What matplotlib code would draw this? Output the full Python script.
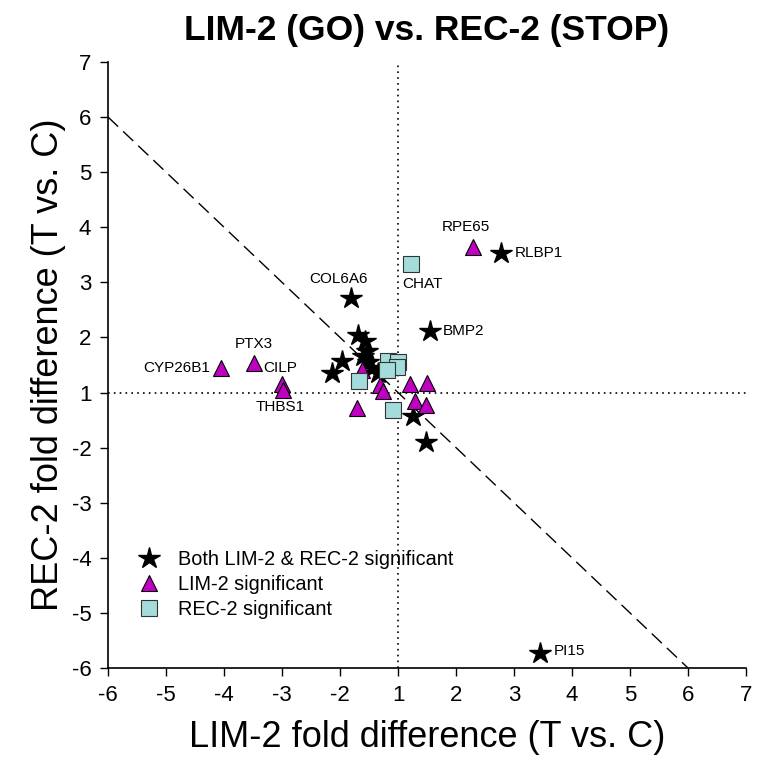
import numpy as np
import matplotlib
matplotlib.use("Agg")
import matplotlib.pyplot as plt
from matplotlib.lines import Line2D

plt.rcParams['font.family'] = ['Liberation Sans', 'DejaVu Sans']

# fold differences (T vs. C)
both_x = [-1.81, 2.78, 1.55, 3.45, -1.69, -1.57, -1.53, -1.60, -1.52, -1.97,
          -2.14, -1.34, -1.45, 1.26, 1.48]
both_y = [2.71, 3.53, 2.11, -5.73, 2.04, 1.93, 1.76, 1.67, 1.56, 1.58,
          1.35, 1.35, 1.44, -1.42, -1.89]
lim_x = [2.29, -4.05, -3.48, -3.00, -2.98, -1.62, -1.31, -1.26, 1.21, 1.50,
         -1.71, 1.29, 1.48]
lim_y = [3.64, 1.44, 1.53, 1.16, 1.04, 1.40, 1.13, 1.02, 1.15, 1.18,
         -1.29, -1.16, -1.22]
rec_x = [1.22, -1.17, 1.00, -1.02, -1.19, -1.67, -1.09]
rec_y = [3.33, 1.58, 1.56, 1.47, 1.40, 1.20, -1.31]

# gene labels: name, x, y, offset (px), horizontal alignment
labels = [
    ("COL6A6", -1.81, 2.71, (-13, 19), "center"),
    ("RLBP1", 2.78, 3.53, (14, 0), "left"),
    ("RPE65", 2.29, 3.64, (-7, 20), "center"),
    ("CHAT", 1.22, 3.33, (12, -20), "center"),
    ("BMP2", 1.55, 2.11, (13, 0), "left"),
    ("PI15", 3.45, -5.73, (14, 2), "left"),
    ("CYP26B1", -4.05, 1.44, (-11, 0), "right"),
    ("PTX3", -3.48, 1.53, (0, 19), "center"),
    ("CILP", -3.00, 1.16, (-2, 16), "center"),
    ("THBS1", -2.98, 1.04, (-3, -17), "center"),
]

tick_vals = [-6, -5, -4, -3, -2, 1, 2, 3, 4, 5, 6, 7]


def pos(f):
    # fold difference has no values between -1 and 1: collapse that gap
    f = np.asarray(f, dtype=float)
    return np.where(f > 0, f - 1, f + 1)


fig = plt.figure(figsize=(7.64, 7.8), dpi=100)
ax = fig.add_axes([0.1414, 0.1436, 0.835, 0.777])

ax.axhline(0, color='black', lw=1.2, ls=(0, (1, 2.5)), zorder=1)
ax.axvline(0, color='black', lw=1.2, ls=(0, (1, 2.5)), zorder=1)
ax.plot(pos([-6, 6]), pos([6, -6]), color='black', lw=1, ls=(0, (10, 5)), zorder=1)

ax.plot(pos(both_x), pos(both_y), ls='none', marker='*', ms=16, color='black',
        mec='black', zorder=3)
ax.plot(pos(lim_x), pos(lim_y), ls='none', marker='^', ms=12, mfc='#C000C0',
        mec='black', mew=0.8, zorder=3)
ax.plot(pos(rec_x), pos(rec_y), ls='none', marker='s', ms=11, mfc='#A3DCDA',
        mec='#333333', mew=0.8, zorder=3)

for name, x, y, off, ha in labels:
    ax.annotate(name, (pos(x), pos(y)), xytext=off, textcoords='offset pixels',
                ha=ha, va='center', fontsize=11)

ax.set_xlim(-5, 6)
ax.set_ylim(-5, 6)
ax.set_xticks(pos(tick_vals))
ax.set_xticklabels([str(v) for v in tick_vals])
ax.set_yticks(pos(tick_vals))
ax.set_yticklabels([str(v) for v in tick_vals])
ax.tick_params(direction='out', length=6, width=1, labelsize=16, pad=6)
for side in ['top', 'right']:
    ax.spines[side].set_visible(False)
for side in ['left', 'bottom']:
    ax.spines[side].set_linewidth(1.2)

ax.set_xlabel("LIM-2 fold difference (T vs. C)", fontsize=26, labelpad=10)
ax.set_ylabel("REC-2 fold difference (T vs. C)", fontsize=26, labelpad=4)
ax.set_title("LIM-2 (GO) vs. REC-2 (STOP)", fontsize=25.5, fontweight='bold',
             family=['Liberation Sans Narrow', 'Liberation Sans'], pad=16)

handles = [
    Line2D([], [], ls='none', marker='*', ms=16, color='black'),
    Line2D([], [], ls='none', marker='^', ms=12, mfc='#C000C0', mec='black', mew=0.8),
    Line2D([], [], ls='none', marker='s', ms=11, mfc='#A3DCDA', mec='#333333', mew=0.8),
]
ax.legend(handles, ["Both LIM-2 & REC-2 significant", "LIM-2 significant",
                    "REC-2 significant"],
          loc='upper left', bbox_to_anchor=(0.02, 0.208), frameon=False,
          fontsize=14.3, handletextpad=0.5, labelspacing=0.3, borderaxespad=0)

fig.savefig("out.png", dpi=100)
